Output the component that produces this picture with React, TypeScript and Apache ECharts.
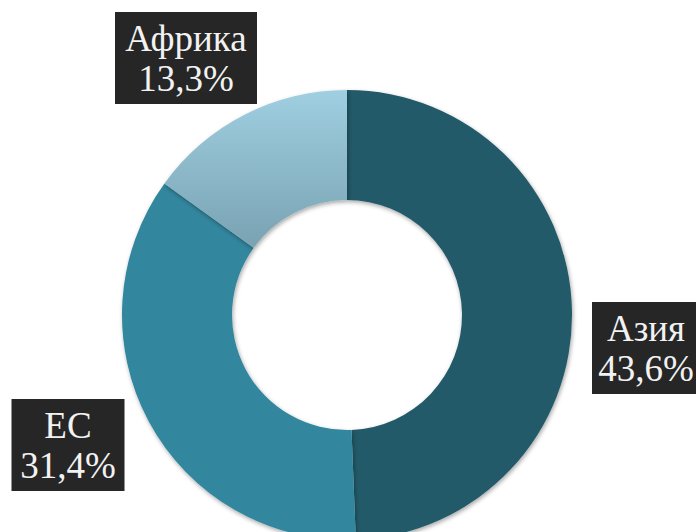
import React, { useEffect, useRef } from "react";
import * as echarts from "echarts";

const categories = ["Азия", "ЕС", "Африка"];
const values = [43.6, 31.4, 13.3];

const colors: any[] = [
  "#235a69",
  "#31869d",
  {
    type: "linear",
    x: 0,
    y: 0,
    x2: 0,
    y2: 1,
    colorStops: [
      { offset: 0, color: "#9fcfe1" },
      { offset: 1, color: "#79a2b2" },
    ],
  },
];

// label box layout: [centerX, centerY, width]
const labelBox: Record<number, [number, number, number]> = {
  0: [646, 348, 108],
  1: [68, 445, 113],
  2: [186, 58, 142],
};

const FONT = "Liberation Serif";

export default function App() {
  const ref = useRef<HTMLDivElement>(null);
  useEffect(() => {
    if (!ref.current) return;
    const chart = echarts.init(ref.current, undefined, { renderer: "svg" });
    chart.setOption({
      animation: false,
      textStyle: { fontFamily: FONT },
      series: [
        {
          type: "pie",
          center: [347, 315],
          radius: [115, 225],
          startAngle: 90,
          clockwise: true,
          avoidLabelOverlap: false,
          data: categories.map((c, i) => ({
            name: c,
            value: values[i],
            itemStyle: { color: colors[i] },
            label: { width: labelBox[i][2] },
          })),
          itemStyle: {
            borderWidth: 0,
            shadowBlur: 4,
            shadowColor: "rgba(0,0,0,0.35)",
            shadowOffsetX: 1,
            shadowOffsetY: 2,
          },
          emphasis: { disabled: true },
          labelLine: { show: false },
          label: {
            show: true,
            position: "outside",
            formatter: (p: any) =>
              p.name + "\n" + String(p.value).replace(".", ",") + "%",
            fontFamily: FONT,
            fontSize: 37,
            lineHeight: 40,
            color: "#f2f2f2",
            backgroundColor: "#262626",
            padding: [8, 0, 4, 0],
            align: "center",
            overflow: "none",
          },
          labelLayout: (params: any) => {
            const b = labelBox[params.dataIndex];
            return {
              x: b[0],
              y: b[1],
              align: "center",
              verticalAlign: "middle",
            };
          },
        },
      ],
    });
    return () => chart.dispose();
  }, []);
  return (
    <div
      ref={ref}
      style={{ position: "fixed", left: 0, top: 0, width: 696, height: 532, background: "#fff" }}
    />
  );
}
